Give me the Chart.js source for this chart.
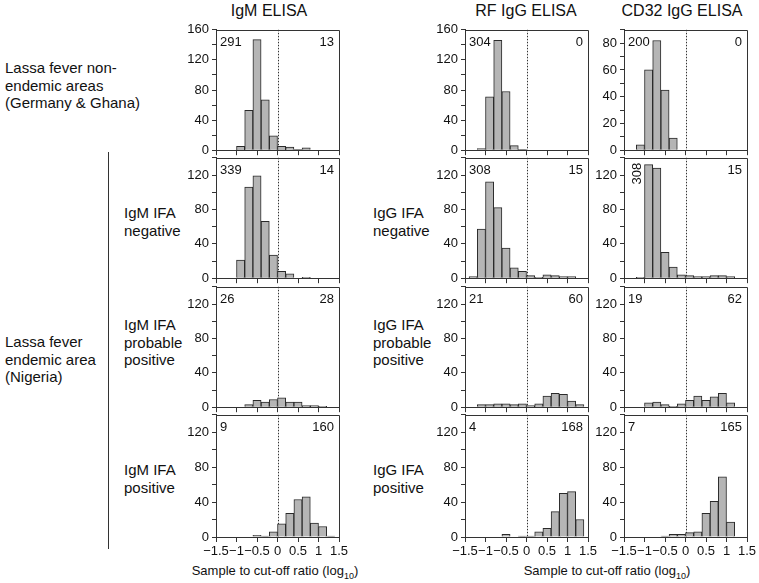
<!DOCTYPE html>
<html>
<head>
<meta charset="utf-8">
<script src="https://cdn.jsdelivr.net/npm/chart.js@4.4.1/dist/chart.umd.min.js"></script>
<style>
  body { margin: 0; background: #fff; font-family: "Liberation Sans", Arial, sans-serif; color: #111; }
  #wrap { position: relative; width: 759px; height: 583px; overflow: hidden; }
  #wrap canvas { position: absolute; }
  .lbl { position: absolute; font-size: 15px; line-height: 17.5px; white-space: nowrap; }
  .ttl { position: absolute; font-size: 16px; white-space: nowrap; transform: translateX(-50%); }
  .xt { position: absolute; font-size: 13px; white-space: nowrap; transform: translateX(-50%); }
  .xt sub { font-size: 9px; }
  .vline { position: absolute; border-left: 1px solid #333; }
</style>
</head>
<body>
<div id="wrap">
  <div class="ttl" style="left:269px; top:2px;">IgM ELISA</div>
  <div class="ttl" style="left:526px; top:2px;">RF IgG ELISA</div>
  <div class="ttl" style="left:682px; top:2px;">CD32 IgG ELISA</div>

  <div class="lbl" style="left:5px; top:59px;">Lassa fever non-<br>endemic areas<br>(Germany &amp; Ghana)</div>
  <div class="vline" style="left:108px; top:152px; height:397px;"></div>
  <div class="lbl" style="left:5px; top:333px;">Lassa fever<br>endemic area<br>(Nigeria)</div>

  <div class="lbl" style="left:124px; top:204px;">IgM IFA<br>negative</div>
  <div class="lbl" style="left:124px; top:316px;">IgM IFA<br>probable<br>positive</div>
  <div class="lbl" style="left:124px; top:461px;">IgM IFA<br>positive</div>

  <div class="lbl" style="left:373px; top:204px;">IgG IFA<br>negative</div>
  <div class="lbl" style="left:373px; top:316px;">IgG IFA<br>probable<br>positive</div>
  <div class="lbl" style="left:373px; top:461px;">IgG IFA<br>positive</div>

  <div class="xt" style="left:275px; top:563px;">Sample to cut-off ratio (log<sub>10</sub>)</div>
  <div class="xt" style="left:607px; top:563px;">Sample to cut-off ratio (log<sub>10</sub>)</div>
</div>
<script>
// histogram bins are 0.2 wide, from -1.4 to 1.4; these are the bin centres
const binCenters = [-1.3, -1.1, -0.9, -0.7, -0.5, -0.3, -0.1, 0.1, 0.3, 0.5, 0.7, 0.9, 1.1, 1.3];
const xTicks = ['\u22121.5', '\u22121', '\u22120.5', '0', '0.5', '1', '1.5'];
const yTicksMain = [0, 40, 80, 120, 160];
const yTicksCd32Top = [0, 20, 40, 60, 80];

// IgM ELISA
const igmNonEndemic = [0, 0, 5, 53, 147, 67, 19, 5, 4, 1, 3, 0, 0, 0];
const igmNegative   = [0, 0, 21, 106, 119, 66, 27, 8, 5, 0, 1, 0, 0, 0];
const igmProbable   = [0, 0, 0, 3, 8, 6, 9, 11, 6, 6, 2, 2, 1, 0];
const igmPositive   = [0, 0, 0, 0, 2, 1, 6, 15, 27, 43, 46, 16, 12, 1];
// RF IgG ELISA
const rfNonEndemic = [0, 2, 71, 146, 78, 6, 1, 0, 0, 0, 0, 0, 0, 0];
const rfNegative   = [2, 57, 112, 82, 35, 12, 8, 3, 1, 4, 3, 2, 2, 0];
const rfProbable   = [0, 3, 3, 4, 4, 3, 4, 2, 4, 13, 16, 15, 7, 3];
const rfPositive   = [0, 0, 0, 0, 3, 0, 1, 1, 6, 10, 29, 50, 52, 20];
// CD32 IgG ELISA
const cdNonEndemic = [0, 4, 60, 82, 45, 9, 0, 0, 0, 0, 0, 0, 0, 0];
const cdNegative   = [0, 1, 132, 128, 30, 13, 4, 3, 2, 2, 3, 3, 2, 0];
const cdProbable   = [0, 0, 5, 6, 3, 1, 4, 8, 13, 8, 12, 16, 5, 0];
const cdPositive   = [0, 0, 0, 0, 1, 3, 3, 5, 6, 27, 41, 69, 17, 0];

// counts printed in each panel (below / above cut-off)
const countsLeft  = [[291, 304, 200], [339, 308, 308], [26, 21, 19], [9, 4, 7]];
const countsRight = [[13, 0, 0], [14, 15, 15], [28, 60, 62], [160, 168, 165]];

const series = [
  [igmNonEndemic, rfNonEndemic, cdNonEndemic],
  [igmNegative, rfNegative, cdNegative],
  [igmProbable, rfProbable, cdProbable],
  [igmPositive, rfPositive, cdPositive]
];
const yMax = [[160, 160, 90], [140, 140, 140], [140, 140, 140], [140, 140, 140]];

// layout of the panel frames (px in the page)
const colLeft = [216, 465, 624];
const rowTop = [29, 157, 286, 414];
const panelW = 123, panelH = 123;
const axisW = 44, padTop = 10, padRight = 14, padBottom = 4;

const panelDecor = {
  id: 'panelDecor',
  beforeDatasetsDraw(chart) {
    const { ctx, chartArea: a, scales: { x } } = chart;
    const x0 = x.getPixelForValue(0);
    ctx.save();
    ctx.strokeStyle = '#333';
    ctx.lineWidth = 1;
    ctx.setLineDash([1.5, 1.5]);
    ctx.beginPath();
    ctx.moveTo(Math.round(x0) + 0.5, a.top);
    ctx.lineTo(Math.round(x0) + 0.5, a.bottom);
    ctx.stroke();
    ctx.restore();
  },
  afterDraw(chart) {
    const { ctx, chartArea: a } = chart;
    const o = chart.options.plugins.panelDecor;
    ctx.save();
    ctx.strokeStyle = '#333';
    ctx.lineWidth = 1;
    ctx.beginPath();
    ctx.moveTo(a.left, Math.round(a.top) + 0.5);
    ctx.lineTo(Math.round(a.right) + 0.5, Math.round(a.top) + 0.5);
    ctx.lineTo(Math.round(a.right) + 0.5, a.bottom);
    ctx.stroke();
    ctx.fillStyle = '#111';
    ctx.font = '13px "Liberation Sans", Arial, sans-serif';
    ctx.textBaseline = 'alphabetic';
    if (o.vertical) {
      ctx.save();
      ctx.translate(a.left + 7, a.top + 5);
      ctx.rotate(-Math.PI / 2);
      ctx.textAlign = 'right';
      ctx.textBaseline = 'top';
      ctx.fillText(String(o.left), 0, 0);
      ctx.restore();
    } else {
      ctx.textAlign = 'left';
      ctx.fillText(String(o.left), a.left + 4, a.top + 16);
    }
    ctx.textAlign = 'right';
    ctx.fillText(String(o.right), a.right - 5, a.top + 16);
    ctx.restore();
  }
};

function makePanel(r, c) {
  const bottomRow = r === 3;
  const xh = bottomRow ? 24 : 5;
  const cv = document.createElement('canvas');
  const w = axisW + panelW + padRight;
  const h = padTop + panelH + xh + padBottom;
  cv.width = w; cv.height = h;
  cv.style.width = w + 'px'; cv.style.height = h + 'px';
  cv.style.left = (colLeft[c] - axisW) + 'px';
  cv.style.top = (rowTop[r] - padTop) + 'px';
  document.getElementById('wrap').appendChild(cv);

  const vals = series[r][c];
  const small = yMax[r][c] < 100;
  const majors = small ? yTicksCd32Top : yTicksMain;

  new Chart(cv.getContext('2d'), {
    type: 'bar',
    data: {
      datasets: [{
        data: binCenters.map((b, i) => ({ x: b, y: vals[i] })),
        backgroundColor: '#b5b5b5',
        borderColor: '#2a2a2a',
        borderWidth: 1,
        categoryPercentage: 1,
        barPercentage: 1
      }]
    },
    options: {
      responsive: false,
      animation: false,
      events: [],
      layout: { padding: { top: padTop, right: padRight, bottom: padBottom, left: 0 } },
      plugins: {
        legend: { display: false },
        tooltip: { enabled: false },
        panelDecor: { left: countsLeft[r][c], right: countsRight[r][c], vertical: r === 1 && c === 2 }
      },
      scales: {
        x: {
          type: 'linear',
          min: -1.5, max: 1.5,
          offset: false,
          grid: { offset: false, drawOnChartArea: false, drawTicks: true, tickLength: 5, color: '#333' },
          border: { color: '#333', width: 1 },
          ticks: {
            display: bottomRow,
            stepSize: 0.5,
            autoSkip: false,
            maxRotation: 0,
            padding: 2,
            color: '#111',
            font: { size: 13, family: '"Liberation Sans", Arial, sans-serif' },
            callback: (v, i) => xTicks[i]
          },
          afterFit: s => { s.height = xh; }
        },
        y: {
          min: 0, max: yMax[r][c],
          grid: { drawOnChartArea: false, tickLength: 4, color: '#333' },
          border: { color: '#333', width: 1 },
          ticks: {
            stepSize: small ? 10 : 20,
            autoSkip: false,
            padding: 3,
            color: '#111',
            font: { size: 13, family: '"Liberation Sans", Arial, sans-serif' },
            callback: v => (majors.includes(v) ? String(v) : '')
          },
          afterFit: s => { s.width = axisW; }
        }
      }
    },
    plugins: [panelDecor]
  });
}

for (let r = 0; r < 4; r++) {
  for (let c = 0; c < 3; c++) makePanel(r, c);
}
</script>
</body>
</html>
